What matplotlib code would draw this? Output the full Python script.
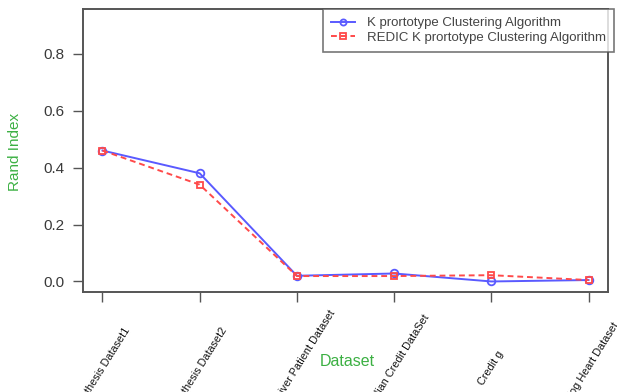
import matplotlib
matplotlib.use("Agg")
import matplotlib.pyplot as plt

datasets = ["Synthesis Dataset1", "Synthesis Dataset2", "Indian Liver Patient Dataset",
            "Australian Credit DataSet", "Credit g", "Statlog Heart Dataset"]
kproto = [0.46, 0.38, 0.02, 0.028, 0.0, 0.005]
redic = [0.46, 0.34, 0.019, 0.019, 0.022, 0.005]
yticks = [0.0, 0.2, 0.4, 0.6, 0.8]

plt.rcParams['font.family'] = ['Liberation Sans', 'DejaVu Sans']

W, H = 617, 392
fig = plt.figure(figsize=(W / 100, H / 100), dpi=100)
L, R, T, B = 83, 608, 9, 292
ax = fig.add_axes([L / W, 1 - B / H, (R - L) / W, (B - T) / H])

x = list(range(1, len(datasets) + 1))
ax.plot(x, kproto, color='#5a5aff', lw=1.4, marker='o', ms=5.5, mfc='none', mew=1.3,
        label='K prortotype Clustering Algorithm')
ax.plot(x, redic, color='#ff4a4a', lw=1.4, ls=(0, (3, 2)), marker='s', ms=5, mfc='none', mew=1.3,
        label='REDIC K prortotype Clustering Algorithm')

ax.set_xlim(0.8, 6.2)
ax.set_ylim(-0.037, 0.957)
ax.set_yticks(yticks)
ax.set_yticklabels([f"{v:.1f}" for v in yticks], fontsize=11, color='#3a3a3a')
ax.set_xticks(x)
ax.set_xticklabels([])
ax.tick_params(axis='both', direction='out', length=7, width=1.0, color='#555555', pad=6)

for s in ax.spines.values():
    s.set_color('#555555')
    s.set_linewidth(1.4)

for xi, lab in zip(x, datasets):
    ax.annotate(lab, xy=(xi, 0), xycoords=('data', 'axes fraction'),
                xytext=(0, -76 * 0.72), textcoords='offset points',
                ha='center', va='center', rotation=58, rotation_mode='anchor',
                fontsize=7.8, color='#111111', annotation_clip=False)

green = '#3cb043'
fig.text(15 / W, 1 - 152 / H, 'Rand Index', rotation=90, ha='center', va='center',
         fontsize=11, color=green)
fig.text(347 / W, 1 - 362 / H, 'Dataset', ha='center', va='center',
         fontsize=11.5, color=green)

leg = ax.legend(loc='upper right', bbox_to_anchor=(1.011, 1.0), borderaxespad=0,
                fontsize=9.5, frameon=True, fancybox=False, edgecolor='#555555',
                handlelength=1.8, handletextpad=0.9, labelspacing=0.2, borderpad=0.6,
                markerscale=0.8)
leg.get_frame().set_linewidth(1.2)
for t in leg.get_texts():
    t.set_color('#444444')

fig.savefig('out.png', dpi=100)
